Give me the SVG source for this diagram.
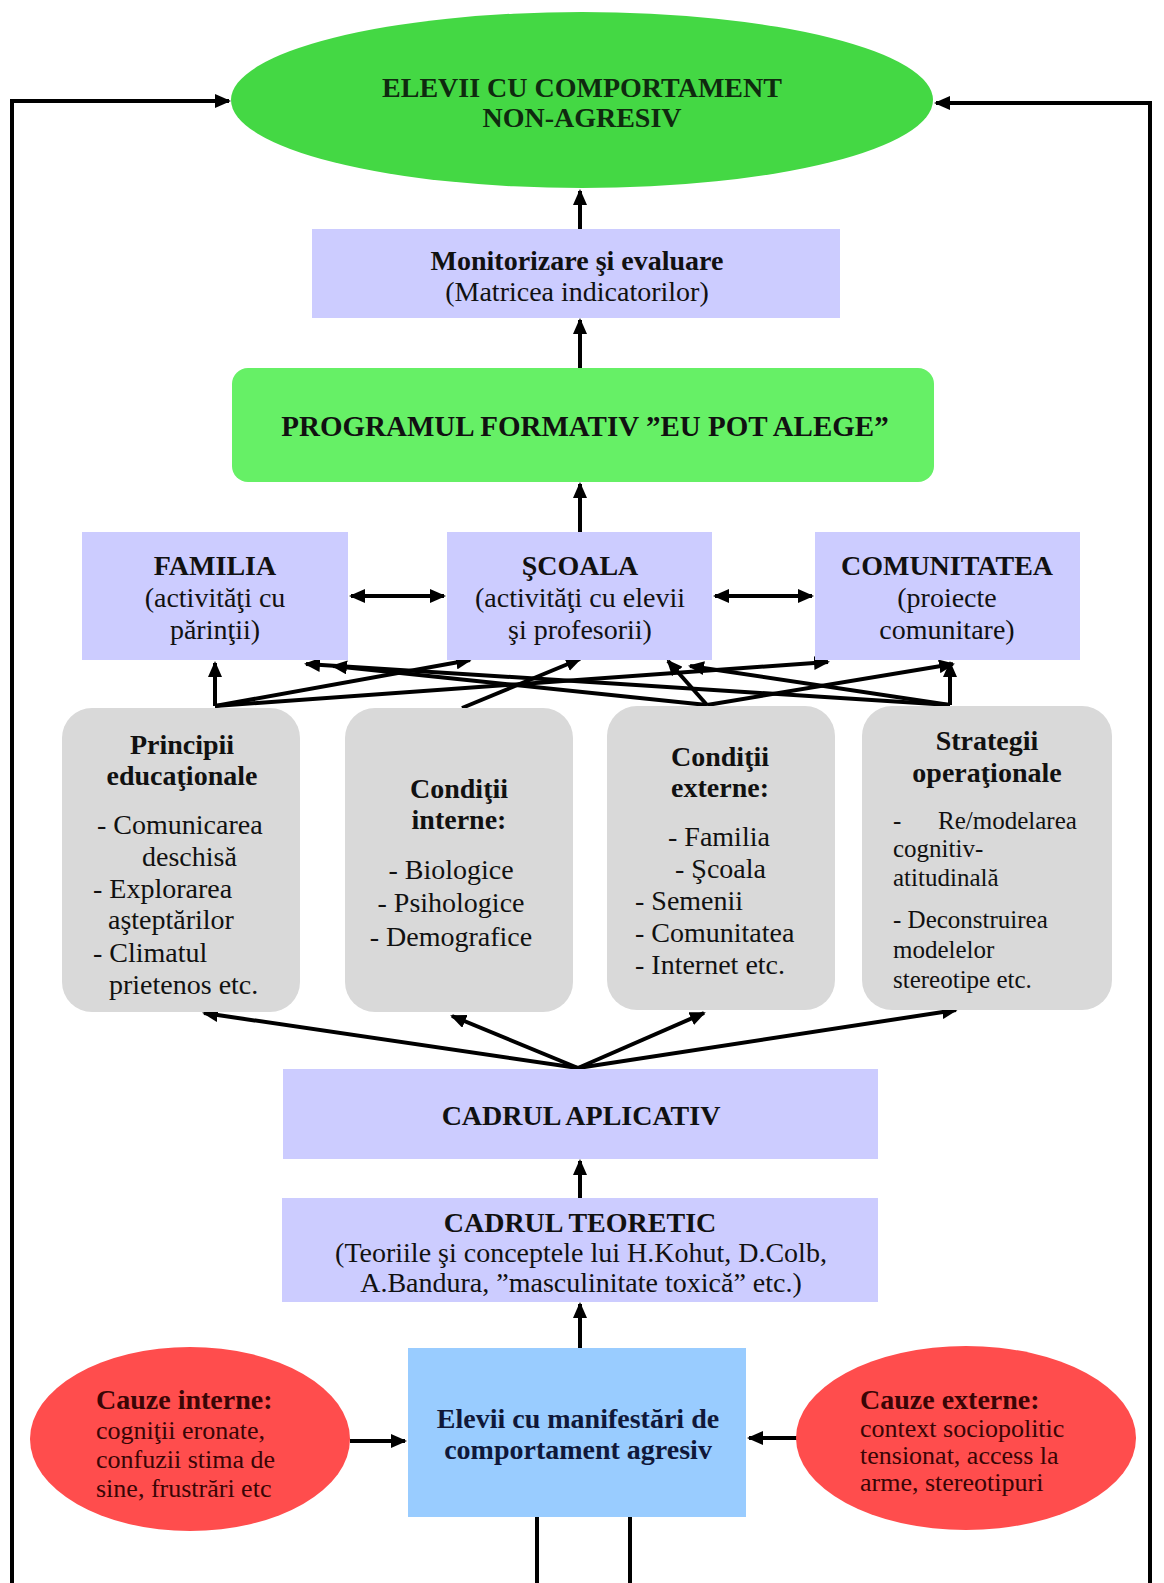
<svg xmlns="http://www.w3.org/2000/svg" width="1164" height="1583" viewBox="0 0 1164 1583">
<style>
text{font-family:"Liberation Serif","Times New Roman",serif;fill:#111;}
.b{font-weight:bold;}
.t28{font-size:28px;}
.t26{font-size:26px;}
.t25{font-size:25px;}
.m{text-anchor:middle;}
.lav{fill:#ccccff;}
.gray{fill:#d9d9d9;}
.red{fill:#ff4d4d;}
.redtxt{fill:#3a0505;}
.ln{stroke:#000;stroke-width:4;fill:none;}
.ar{marker-end:url(#ah);}
.dar{marker-end:url(#ah);marker-start:url(#ah);}
</style>
<defs>
<marker id="ah" markerUnits="userSpaceOnUse" markerWidth="16" markerHeight="14" refX="14" refY="7" orient="auto-start-reverse">
<path d="M0,0 L16,7 L0,14 z" fill="#000"/>
</marker>
</defs>
<rect width="1164" height="1583" fill="#fff"/>

<g id="connectors">
<path class="ln ar" d="M12,1583 L12,101 L229,101"/>
<path class="ln ar" d="M1150,1583 L1150,103 L936,103"/>
<path class="ln ar" d="M580,229 L580,191"/>
<path class="ln ar" d="M580,368 L580,320"/>
<path class="ln ar" d="M580,532 L580,484"/>
<path class="ln dar" d="M351,596 L444,596"/>
<path class="ln dar" d="M715,596 L812,596"/>
<path class="ln ar" d="M215,706 L215,663"/>
<path class="ln ar" d="M215,706 L470,660"/>
<path class="ln ar" d="M215,706 L828,662"/>
<path class="ln ar" d="M462,708 L580,659"/>
<path class="ln ar" d="M707,705 L333,666"/>
<path class="ln ar" d="M707,705 L668,661"/>
<path class="ln ar" d="M707,705 L953,664"/>
<path class="ln ar" d="M950,705 L950,663"/>
<path class="ln ar" d="M950,705 L306,664"/>
<path class="ln ar" d="M950,705 L690,666"/>
<path class="ln ar" d="M578,1068 L204,1013"/>
<path class="ln ar" d="M578,1068 L452,1016"/>
<path class="ln ar" d="M578,1068 L704,1013"/>
<path class="ln ar" d="M578,1068 L956,1010"/>
<path class="ln ar" d="M580,1198 L580,1161"/>
<path class="ln ar" d="M580,1348 L580,1304"/>
<path class="ln ar" d="M350,1441 L405,1441"/>
<path class="ln ar" d="M797,1438 L749,1438"/>
<path class="ln" d="M537,1517 L537,1583"/>
<path class="ln" d="M630,1517 L630,1583"/>
</g>

<g id="n-elevii-nonagresiv">
<ellipse cx="582" cy="100" rx="351" ry="88" fill="#44d844"/>
<text class="b t28 m" x="582" y="97" style="fill:#0f2a0f">ELEVII CU COMPORTAMENT</text>
<text class="b t28 m" x="582" y="127" style="fill:#0f2a0f">NON-AGRESIV</text>
</g>

<g id="n-monitorizare">
<rect class="lav" x="312" y="229" width="528" height="89"/>
<text class="b t28 m" x="577" y="270">Monitorizare şi evaluare</text>
<text class="t28 m" x="577" y="301">(Matricea indicatorilor)</text>
</g>

<g id="n-program">
<rect x="232" y="368" width="702" height="114" rx="16" fill="#66f066"/>
<text class="b m" x="585" y="436" style="font-size:29px">PROGRAMUL FORMATIV ”EU POT ALEGE”</text>
</g>

<g id="n-familia">
<rect class="lav" x="82" y="532" width="266" height="128"/>
<text class="b t28 m" x="215" y="575">FAMILIA</text>
<text class="t28 m" x="215" y="607">(activităţi cu</text>
<text class="t28 m" x="215" y="639">părinţii)</text>
</g>

<g id="n-scoala">
<rect class="lav" x="447" y="532" width="265" height="128"/>
<text class="b t28 m" x="580" y="575">ŞCOALA</text>
<text class="t28 m" x="580" y="607">(activităţi cu elevii</text>
<text class="t28 m" x="580" y="639">şi profesorii)</text>
</g>

<g id="n-comunitatea">
<rect class="lav" x="815" y="532" width="265" height="128"/>
<text class="b t28 m" x="947" y="575">COMUNITATEA</text>
<text class="t28 m" x="947" y="607">(proiecte</text>
<text class="t28 m" x="947" y="639">comunitare)</text>
</g>

<g id="n-principii">
<rect class="gray" x="62" y="708" width="238" height="304" rx="30"/>
<text class="b t28 m" x="182" y="754">Principii</text>
<text class="b t28 m" x="182" y="785">educaţionale</text>
<text class="t28" x="97" y="834">- Comunicarea</text>
<text class="t28" x="142" y="866">deschisă</text>
<text class="t28" x="93" y="898">- Explorarea</text>
<text class="t28" x="108" y="929">aşteptărilor</text>
<text class="t28" x="93" y="962">- Climatul</text>
<text class="t28" x="109" y="994">prietenos etc.</text>
</g>

<g id="n-interne">
<rect class="gray" x="345" y="708" width="228" height="304" rx="30"/>
<text class="b t28 m" x="459" y="798">Condiţii</text>
<text class="b t28 m" x="459" y="829">interne:</text>
<text class="t28 m" x="451" y="879">- Biologice</text>
<text class="t28 m" x="451" y="912">- Psihologice</text>
<text class="t28 m" x="451" y="946">- Demografice</text>
</g>

<g id="n-externe">
<rect class="gray" x="607" y="706" width="228" height="304" rx="30"/>
<text class="b t28 m" x="720" y="766">Condiţii</text>
<text class="b t28 m" x="720" y="797">externe:</text>
<text class="t28" x="668" y="846">- Familia</text>
<text class="t28" x="675" y="878">- Şcoala</text>
<text class="t28" x="635" y="910">- Semenii</text>
<text class="t28" x="635" y="942">- Comunitatea</text>
<text class="t28" x="635" y="974">- Internet etc.</text>
</g>

<g id="n-strategii">
<rect class="gray" x="862" y="706" width="250" height="304" rx="30"/>
<text class="b t28 m" x="987" y="750">Strategii</text>
<text class="b t28 m" x="987" y="782">operaţionale</text>
<text class="t25" x="893" y="829">-</text>
<text class="t25" x="938" y="829">Re/modelarea</text>
<text class="t25" x="893" y="857">cognitiv-</text>
<text class="t25" x="893" y="886">atitudinală</text>
<text class="t25" x="893" y="928">- Deconstruirea</text>
<text class="t25" x="893" y="958">modelelor</text>
<text class="t25" x="893" y="988">stereotipe etc.</text>
</g>

<g id="n-aplicativ">
<rect class="lav" x="283" y="1069" width="595" height="90"/>
<text class="b t28 m" x="581" y="1125">CADRUL APLICATIV</text>
</g>

<g id="n-teoretic">
<rect class="lav" x="282" y="1198" width="596" height="104"/>
<text class="b t28 m" x="580" y="1232">CADRUL TEORETIC</text>
<text class="t28 m" x="581" y="1262">(Teoriile şi conceptele lui H.Kohut, D.Colb,</text>
<text class="t28 m" x="581" y="1292">A.Bandura, ”masculinitate toxică” etc.)</text>
</g>

<g id="n-elevii-agresiv">
<rect x="408" y="1348" width="338" height="169" fill="#99ccff"/>
<text class="b t28 m" x="578" y="1428" style="fill:#10183a">Elevii cu manifestări de</text>
<text class="b t28 m" x="578" y="1459" style="fill:#10183a">comportament agresiv</text>
</g>

<g id="n-cauze-interne">
<ellipse class="red" cx="190" cy="1439" rx="160" ry="92"/>
<text class="b t28 redtxt" x="96" y="1409">Cauze interne:</text>
<text class="t26 redtxt" x="96" y="1439">cogniţii eronate,</text>
<text class="t26 redtxt" x="96" y="1468">confuzii stima de</text>
<text class="t26 redtxt" x="96" y="1497">sine, frustrări etc</text>
</g>

<g id="n-cauze-externe">
<ellipse class="red" cx="966" cy="1438" rx="170" ry="92"/>
<text class="b t28 redtxt" x="860" y="1409">Cauze externe:</text>
<text class="t26 redtxt" x="860" y="1437">context sociopolitic</text>
<text class="t26 redtxt" x="860" y="1464">tensionat, access la</text>
<text class="t26 redtxt" x="860" y="1491">arme, stereotipuri</text>
</g>
</svg>
